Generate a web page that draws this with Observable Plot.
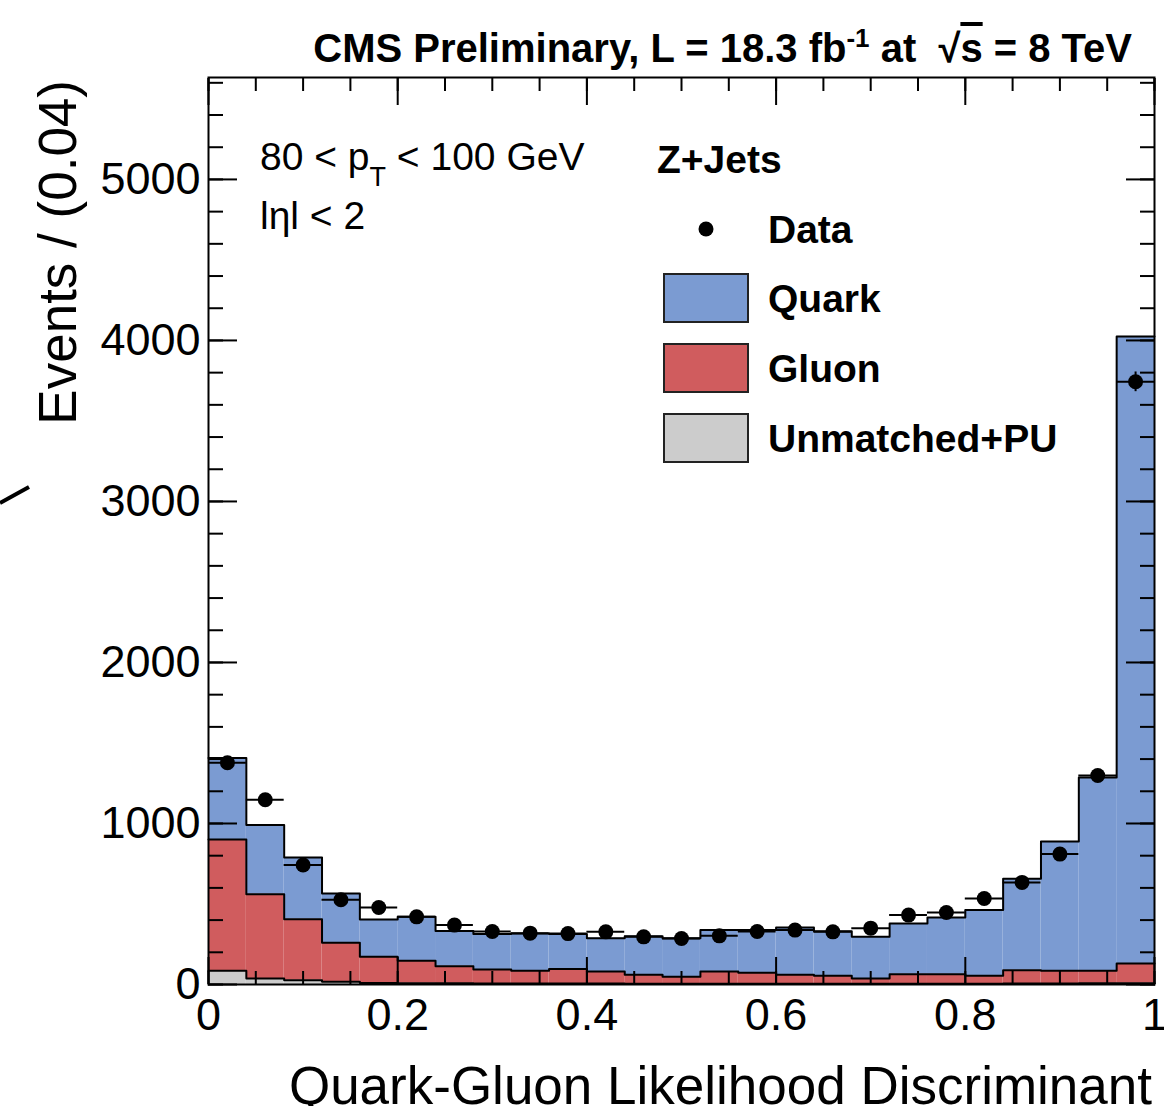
<!DOCTYPE html>
<html><head><meta charset="utf-8">
<script src="https://cdn.jsdelivr.net/npm/d3@7"></script>
<script src="https://cdn.jsdelivr.net/npm/@observablehq/plot@0.6"></script>
<style>body{margin:0;background:#fff;overflow:hidden} svg{display:block}</style>
</head><body><div id="chart"></div>
<script>
// ---- data ----
const binLow  = [0,0.04,0.08,0.12,0.16,0.20,0.24,0.28,0.32,0.36,0.40,0.44,0.48,0.52,0.56,0.60,0.64,0.68,0.72,0.76,0.80,0.84,0.88,0.92,0.96];
const binHigh = [0.04,0.08,0.12,0.16,0.20,0.24,0.28,0.32,0.36,0.40,0.44,0.48,0.52,0.56,0.60,0.64,0.68,0.72,0.76,0.80,0.84,0.88,0.92,0.96,1.00];
const unmatched = [85,37,27,17,10,8,7,6,6,6,6,5,5,5,5,5,5,5,5,5,5,6,6,7,8];
const gluon     = [815,524,379,242,162,139,107,87,79,90,75,55,43,76,68,55,49,32,59,59,49,83,79,78,122];
const quark     = [506,429,383,306,232,273,219,220,231,217,207,240,240,257,265,294,276,259,315,352,408,568,803,1201,3895];
const dataPts   = [1377,1147,742,526,478,420,369,329,319,316,327,296,286,302,329,338,327,350,431,447,534,634,810,1298,3743];
const components = ["Unmatched+PU","Gluon","Quark"];
const compColors = ["#cccccc","#d05c5e","#7b9bd2"];
const xMajorTicks = [0,0.2,0.4,0.6,0.8,1];
const xTickLabels = ["0","0.2","0.4","0.6","0.8","1"];
const xMinorTicks = [0,0.05,0.1,0.15,0.2,0.25,0.3,0.35,0.4,0.45,0.5,0.55,0.6,0.65,0.7,0.75,0.8,0.85,0.9,0.95,1];
const yMajorTicks = [0,1000,2000,3000,4000,5000];
const yMinorTicks = [0,200,400,600,800,1000,1200,1400,1600,1800,2000,2200,2400,2600,2800,3000,3200,3400,3600,3800,4000,4200,4400,4600,4800,5000,5200,5400,5600];
const yMax = 5633;

// ---- derived tables ----
const series = [unmatched, gluon, quark];
const rects = [];
const levels = [];
binLow.forEach((lo, i) => {
  let base = 0;
  series.forEach((s, k) => {
    rects.push({x1: lo, x2: binHigh[i], y1: base, y2: base + s[i], comp: components[k]});
    base += s[i];
    levels.push({x: lo, y: base, level: components[k]});
    if (i === binLow.length - 1) levels.push({x: binHigh[i], y: base, level: components[k]});
  });
});
const points = binLow.map((lo, i) => ({lo, hi: binHigh[i], c: (lo + binHigh[i]) / 2, v: dataPts[i], e: Math.sqrt(dataPts[i])}));

const FONT = "'Liberation Sans', Arial, Helvetica, sans-serif";
const W = 1164, H = 1106, ML = 208, MR = 10, MT = 77, MB = 122;

const plot = Plot.plot({
  width: W, height: H,
  marginLeft: ML, marginRight: MR, marginTop: MT, marginBottom: MB,
  style: {fontFamily: FONT, background: "white", color: "black", overflow: "visible"},
  x: {domain: [0, 1]},
  y: {domain: [0, yMax]},
  color: {domain: components, range: compColors},
  marks: [
    Plot.rect(rects, {x1: "x1", x2: "x2", y1: "y1", y2: "y2", fill: "comp"}),
    Plot.line(levels, {x: "x", y: "y", z: "level", curve: "step-after", stroke: "black", strokeWidth: 2}),
    Plot.ruleY(points, {x1: "lo", x2: "hi", y: "v", stroke: "black", strokeWidth: 2}),
    Plot.ruleX(points, {x: "c", y1: d => d.v - d.e, y2: d => d.v + d.e, stroke: "black", strokeWidth: 2}),
    Plot.dot(points, {x: "c", y: "v", r: 7.5, fill: "black", stroke: null}),
    // inward ticks on all four sides
    Plot.axisX({anchor: "bottom", ticks: xMinorTicks, tickSize: -13, tickFormat: () => "", label: null, strokeWidth: 2}),
    Plot.axisX({anchor: "bottom", ticks: xMajorTicks, tickSize: -27, tickFormat: () => "", label: null, strokeWidth: 2}),
    Plot.axisX({anchor: "top", ticks: xMinorTicks, tickSize: -13, tickFormat: () => "", label: null, strokeWidth: 2}),
    Plot.axisX({anchor: "top", ticks: xMajorTicks, tickSize: -27, tickFormat: () => "", label: null, strokeWidth: 2}),
    Plot.axisY({anchor: "left", ticks: yMinorTicks, tickSize: -15, tickFormat: () => "", label: null, strokeWidth: 2}),
    Plot.axisY({anchor: "left", ticks: yMajorTicks, tickSize: -29, tickFormat: () => "", label: null, strokeWidth: 2}),
    Plot.axisY({anchor: "right", ticks: yMinorTicks, tickSize: -15, tickFormat: () => "", label: null, strokeWidth: 2}),
    Plot.axisY({anchor: "right", ticks: yMajorTicks, tickSize: -29, tickFormat: () => "", label: null, strokeWidth: 2}),
    // tick labels
    Plot.axisX({anchor: "bottom", ticks: xMajorTicks, tickSize: 0, tickPadding: 14, tickFormat: (d, i) => xTickLabels[i], label: null, fontSize: 45}),
    Plot.axisY({anchor: "left", ticks: yMajorTicks, tickSize: 0, tickPadding: 8, tickFormat: d => String(d), label: null, fontSize: 45}),
    Plot.frame({stroke: "black", strokeWidth: 2})
  ]
});
document.getElementById("chart").appendChild(plot);

// ---- annotations ----
const svg = d3.select(plot);
const ann = svg.append("g").attr("font-family", FONT).attr("fill", "black").attr("text-anchor", "start");

// axis titles
ann.append("text").attr("x", ML + (W - ML - MR) - 2).attr("y", H - 2)
  .attr("text-anchor", "end").attr("font-size", 53).text("Quark-Gluon Likelihood Discriminant");
ann.append("text").attr("transform", `translate(76,${MT + 3}) rotate(-90)`)
  .attr("text-anchor", "end").attr("font-size", 53).text("Events / (0.04)");

// header
const title = ann.append("text").attr("x", 1132).attr("y", 62).attr("text-anchor", "end")
  .attr("font-size", 40).attr("font-weight", "bold");
title.append("tspan").text("CMS Preliminary, L = 18.3 fb");
title.append("tspan").attr("font-size", 26).attr("dy", -15).text("-1");
title.append("tspan").attr("dy", 15).text(" at  \u221A");
title.append("tspan").attr("text-decoration", "overline").text("s");
title.append("tspan").text(" = 8 TeV");

// kinematic selection
const t1 = ann.append("text").attr("x", 260).attr("y", 170).attr("font-size", 39);
t1.append("tspan").text("80 < p");
t1.append("tspan").attr("font-size", 27).attr("dy", 16).text("T");
t1.append("tspan").attr("dy", -16).text(" < 100 GeV");
ann.append("text").attr("x", 260).attr("y", 229).attr("font-size", 39).text("l\u03B7l < 2");

// legend
const lg = ann.append("g").attr("font-weight", "bold").attr("font-size", 39);
lg.append("text").attr("x", 657).attr("y", 173).text("Z+Jets");
lg.append("circle").attr("cx", 706).attr("cy", 229).attr("r", 7.5);
lg.append("text").attr("x", 768).attr("y", 243).text("Data");
const legItems = [["Quark", 274], ["Gluon", 344], ["Unmatched+PU", 414]];
legItems.forEach(([name, y]) => {
  const k = components.indexOf(name);
  lg.append("rect").attr("x", 664).attr("y", y).attr("width", 84).attr("height", 48)
    .attr("fill", compColors[k]).attr("stroke", "#222").attr("stroke-width", 2);
  lg.append("text").attr("x", 768).attr("y", y + 38).text(name);
});

// stray stroke at far left of the reference
ann.append("line").attr("x1", 0).attr("y1", 503).attr("x2", 29).attr("y2", 487)
  .attr("stroke", "black").attr("stroke-width", 4);
</script>
</body></html>
